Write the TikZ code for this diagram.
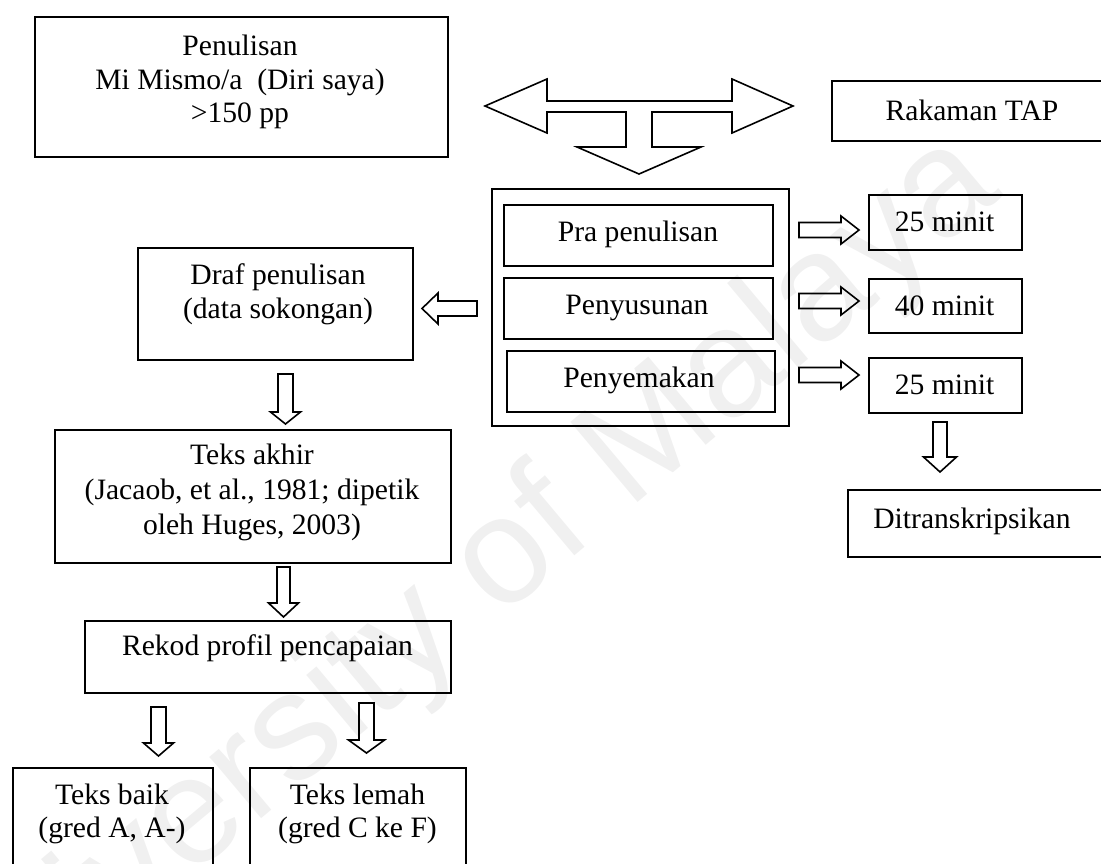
\documentclass[tikz,border=0pt]{standalone}
\usepackage{fontspec}
\setmainfont{Liberation Serif}
\newfontfamily\wmfont{Liberation Sans}

% rectangle node given by its top-left and bottom-right corners
\newcommand\boxnode[5]{%
  \node[box, anchor=north west,
        minimum width={0.5pt*(#4-#2)}, minimum height={0.5pt*(#5-#3)}]
        (#1) at (#2,#3) {};}
% hollow block arrows: centre line, start, head base, tip, shaft half width, head half width
\newcommand\arrdown[6]{%
  \draw[blk] (#1-#5,#2) -- (#1+#5,#2) -- (#1+#5,#3) -- (#1+#6,#3) -- (#1,#4)
    -- (#1-#6,#3) -- (#1-#5,#3) -- cycle;}
\newcommand\arrright[6]{%
  \draw[blk] (#2,#1-#5) -- (#3,#1-#5) -- (#3,#1-#6) -- (#4,#1) -- (#3,#1+#6)
    -- (#3,#1+#5) -- (#2,#1+#5) -- cycle;}

\begin{document}
\begin{tikzpicture}[x=0.5pt,y=-0.5pt,
  box/.style={draw, line width=1pt, inner sep=0pt},
  lbl/.style={align=center, font=\fontsize{14.8}{16.8}\selectfont, inner sep=0pt},
  blk/.style={draw, line width=0.8pt, line join=miter}]
\useasboundingbox (0,0) rectangle (1101,863);
\clip (0,0) rectangle (1101,863);

% faint repository watermark behind everything
\node[rotate=40, text=black!6, font=\wmfont\fontsize{76}{76}\selectfont]
  (wm) at (455,605) {University of Malaya};

% boxes
\boxnode{pen}{34}{16}{447}{156}
\boxnode{tap}{831}{80}{1115}{140}
\boxnode{outer}{491}{188}{788}{425}
\boxnode{pra}{503}{204}{772}{265}
\boxnode{susun}{503}{277}{772}{338}
\boxnode{semak}{506}{350}{774}{411}
\boxnode{ma}{868}{194}{1021}{249}
\boxnode{mb}{868}{278}{1021}{332}
\boxnode{mc}{868}{357}{1021}{412}
\boxnode{trans}{847}{489}{1115}{556}
\boxnode{draf}{137}{247}{412}{359}
\boxnode{akhir}{54}{429}{450}{562}
\boxnode{rekod}{84}{620}{450}{692}
\boxnode{baik}{12}{767}{212}{900}
\boxnode{lemah}{249}{767}{465}{900}

% texts
\node[lbl] (tpen) at (240,82) {Penulisan\\Mi Mismo/a\ \ (Diri saya)\\>150 pp};
\node[lbl] (ttap) at (972,110) {Rakaman TAP};
\node[lbl] (tpra) at (638,234) {Pra penulisan};
\node[lbl] (tsusun) at (637,308) {Penyusunan};
\node[lbl] (tsemak) at (639,380) {Penyemakan};
\node[lbl] (tma) at (944.5,222) {25 minit};
\node[lbl] (tmb) at (944.5,305.5) {40 minit};
\node[lbl] (tmc) at (944.5,385) {25 minit};
\node[lbl] (ttrans) at (972,521) {Ditranskripsikan};
\node[lbl] (tdraf) at (278,294) {Draf penulisan\\(data sokongan)};
\node[lbl, font=\fontsize{14.8}{17.5}\selectfont] (takhir) at (252,492)
  {Teks akhir\\(Jacaob, et al., 1981; dipetik\\oleh Huges, 2003)};
\node[lbl] (trekod) at (267.5,648) {Rekod profil pencapaian};
\node[lbl] (tbaik) at (112,814) {Teks baik\\(gred A, A-)};
\node[lbl] (tlemah) at (357.5,814) {Teks lemah\\(gred C ke F)};

% three-way block arrow between the top boxes and the stage box
\draw[blk] (485,106) -- (547,79) -- (547,101) -- (732,101) -- (732,79) -- (793,106)
  -- (732,133) -- (732,112) -- (652,112) -- (652,147) -- (701,147) -- (639,174)
  -- (577,147) -- (626,147) -- (626,112) -- (547,112) -- (547,133) -- cycle;

% stage -> duration arrows
\arrright{230}{799}{841}{859}{7.5}{14}
\arrright{301}{799}{841}{859}{7.5}{14}
\arrright{375}{799}{841}{859}{7.5}{14}

% stage box -> draft (pointing left)
\draw[blk] (422,308.5) -- (438,293) -- (438,301) -- (477,301) -- (477,316)
  -- (438,316) -- (438,324) -- cycle;

% downward arrows
\arrdown{940}{422}{457}{472}{7}{16.5}
\arrdown{285.5}{374}{412}{424}{7.5}{15}
\arrdown{283.5}{567}{603}{617}{6.5}{15}
\arrdown{158.5}{707}{743}{756}{7.5}{15}
\arrdown{366.5}{703}{740}{753}{7.5}{18}
\end{tikzpicture}
\end{document}
